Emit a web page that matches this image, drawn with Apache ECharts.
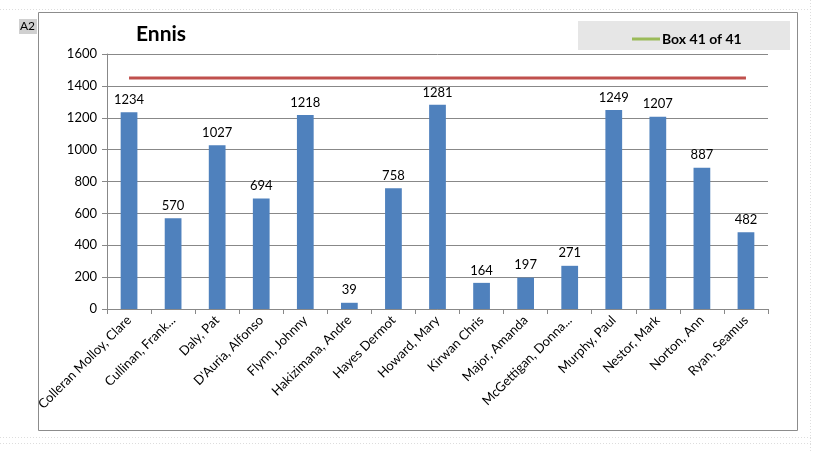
<!DOCTYPE html>
<html><head><meta charset="utf-8">
<script src="https://cdn.jsdelivr.net/npm/echarts@6/dist/echarts.min.js"></script>
<style>html,body{margin:0;padding:0;background:#fff}#c{width:813px;height:451px}</style>
</head><body><div id="c"></div>
<script>
const categories = ["Colleran Molloy, Clare","Cullinan, Frank...","Daly, Pat","D'Auria, Alfonso","Flynn, Johnny","Hakizimana, Andre","Hayes Dermot","Howard, Mary","Kirwan Chris","Major, Amanda","McGettigan, Donna...","Murphy, Paul","Nestor, Mark","Norton, Ann","Ryan, Seamus"];
const values = [1234,570,1027,694,1218,39,758,1281,164,197,271,1249,1207,887,482];
const targetValues = [1450,1450,1450,1450,1450,1450,1450,1450,1450,1450,1450,1450,1450,1450,1450];
const titleText = "Ennis";
const legendName = "Box 41 of 41";
const cornerLabel = "A2";

const font = "Lato, 'Open Sans', sans-serif";
const chart = echarts.init(document.getElementById('c'));
chart.setOption({
  animation: false,
  backgroundColor: '#fff',
  textStyle: {fontFamily: font},
  title: {text: titleText, left: 131, top: 19, textStyle: {fontSize: 21, fontWeight: 'bold', color: '#000', fontFamily: font}},
  graphic: [
    {type: 'rect', shape: {x: 38.5, y: 12.5, width: 759, height: 418}, style: {fill: 'none', stroke: '#8c8c8c', lineWidth: 1}, z: -1},
    {type: 'rect', shape: {x: 578, y: 21, width: 212, height: 29}, style: {fill: '#e6e6e6'}, z: -1},
    {type: 'rect', shape: {x: 19, y: 19, width: 18, height: 15}, style: {fill: '#d0d0d0'}},
    {type: 'text', left: 20, top: 20, style: {text: cornerLabel, fontSize: 12, fill: '#000', fontFamily: font}},
    {type: 'line', shape: {x1: 0, y1: 9.5, x2: 813, y2: 9.5}, style: {stroke: '#ddd', lineDash: [1, 2]}},
    {type: 'line', shape: {x1: 810.5, y1: 0, x2: 810.5, y2: 451}, style: {stroke: '#ddd', lineDash: [1, 2]}},
    {type: 'line', shape: {x1: 0, y1: 437.5, x2: 813, y2: 437.5}, style: {stroke: '#ddd', lineDash: [1, 2]}},
    {type: 'line', shape: {x1: 0, y1: 443.5, x2: 813, y2: 443.5}, style: {stroke: '#ddd', lineDash: [1, 2]}}
  ],
  legend: {
    data: [{name: legendName, icon: 'rect'}],
    left: 627, top: 27, itemWidth: 28, itemHeight: 3, itemGap: 4,
    textStyle: {fontSize: 14, fontWeight: 'bold', color: '#000', fontFamily: font, padding: [0,0,0,-3]}
  },
  grid: {left: 107, right: 45, top: 54, bottom: 142, containLabel: false},
  xAxis: {
    type: 'category', data: categories, boundaryGap: true,
    axisLine: {lineStyle: {color: '#888', width: 1}},
    axisTick: {show: true, length: 5, lineStyle: {color: '#888'}},
    axisLabel: {rotate: 45, fontSize: 13, color: '#000', margin: 9, interval: 0, fontFamily: font}
  },
  yAxis: {
    type: 'value', min: 0, max: 1600, interval: 200,
    axisLine: {show: true, lineStyle: {color: '#888'}},
    axisTick: {show: true, length: 5, lineStyle: {color: '#888'}},
    axisLabel: {fontSize: 13, color: '#000', margin: 10, fontFamily: font, formatter: v => String(v)},
    splitLine: {lineStyle: {color: '#888', width: 1}}
  },
  series: [
    {type: 'bar', name: 'Values', data: values, barWidth: '38%',
     itemStyle: {color: '#4f81bd'},
     label: {show: true, position: 'top', distance: 6, fontSize: 13, color: '#000', fontFamily: font}},
    {type: 'line', name: 'Target', data: targetValues, symbol: 'none',
     lineStyle: {color: '#c0504d', width: 3}, itemStyle: {color: '#c0504d'}, z: 3},
    {type: 'line', name: legendName, data: [], symbol: 'none',
     lineStyle: {color: '#9bbb59', width: 3}, itemStyle: {color: '#9bbb59'}}
  ]
});
</script></body></html>
